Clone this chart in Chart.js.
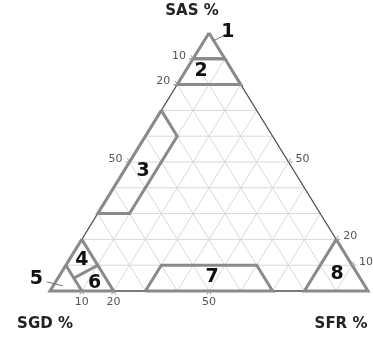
<!DOCTYPE html>
<html>
<head>
<meta charset="utf-8">
<script src="https://cdn.jsdelivr.net/npm/chart.js@4.4.0/dist/chart.umd.min.js"></script>
<style>
  html, body { margin: 0; padding: 0; background: #fff; }
  #wrap { width: 373px; height: 339px; }
</style>
</head>
<body>
<div id="wrap"><canvas id="ternary" width="373" height="339"></canvas></div>
<script>
// ternary points are [SAS, SFR] fractions (SGD = 1 - SAS - SFR)
const gridSteps = [0.1, 0.2, 0.3, 0.4, 0.5, 0.6, 0.7, 0.8, 0.9];

const sasTicks = [10, 20, 50];   // left side, measured down from the SAS corner
const sfrTicks = [50, 20, 10];   // right side, measured up from the SFR corner
const sgdTicks = [10, 20, 50];   // bottom, measured from the SGD corner

const region1 = [[1, 0], [0.9, 0], [0.9, 0.1], [1, 0]];
const region2 = [[0.9, 0], [0.8, 0], [0.8, 0.2], [0.9, 0.1], [0.9, 0]];
const region3 = [[0.7, 0], [0.6, 0.1], [0.3, 0.1], [0.3, 0], [0.7, 0]];
const region456 = [[0.2, 0], [0, 0], [0, 0.2], [0.2, 0]];
const region5Edge = [[0.1, 0], [0, 0.1]];
const region46Split = [[0.05, 0.05], [0.1, 0.1]];
const region7 = [[0, 0.3], [0.1, 0.3], [0.1, 0.6], [0, 0.7], [0, 0.3]];
const region8 = [[0.2, 0.8], [0, 0.8], [0, 1], [0.2, 0.8]];

const regionNames = ['1', '2', '3', '4', '5', '6', '7', '8'];
// where each number sits, in ternary coords [SAS, SFR], plus pixel nudge
const nameSpots = [
  [[0.95, 0.05], 11, -14],
  [[0.85, 0.05], 0, -1],
  [[0.465, 0.06], 0, 0],
  [[0.12, 0.04], 0, 0],
  [[0.03, 0.03], -28, -4],
  [[0.04, 0.12], 0, 2],
  [[0.06, 0.48], 0, 2],
  [[0.065, 0.87], 0, 0]
];

const toXY = ([a, c]) => ({ x: c + a / 2, y: a });

function lineSet(points, color, width, order) {
  return {
    data: points.map(toXY),
    showLine: true,
    borderColor: color,
    borderWidth: width,
    pointRadius: 0,
    pointHoverRadius: 0,
    tension: 0,
    fill: false,
    clip: false,
    order: order
  };
}

const datasets = [];
const REGION = '#8a8a8a';
[region1, region2, region3, region456, region5Edge, region46Split, region7, region8]
  .forEach(r => datasets.push(lineSet(r, REGION, 3, 1)));

datasets.push(lineSet([[1, 0], [0, 0], [0, 1], [1, 0]], '#4d4d4d', 1.3, 2));

gridSteps.forEach(s => {
  datasets.push(lineSet([[s, 0], [s, 1 - s]], '#d8d8d8', 1, 3));
  datasets.push(lineSet([[0, s], [1 - s, s]], '#d8d8d8', 1, 3));
  datasets.push(lineSet([[0, 1 - s], [1 - s, 0]], '#d8d8d8', 1, 3));
});

const textPlugin = {
  id: 'ternaryText',
  afterDatasetsDraw(chart) {
    const { ctx, scales } = chart;
    const px = (p) => {
      const q = toXY(p);
      return { x: scales.x.getPixelForValue(q.x), y: scales.y.getPixelForValue(q.y) };
    };
    ctx.save();

    // ticks
    ctx.strokeStyle = '#999';
    ctx.lineWidth = 1;
    ctx.fillStyle = '#555';
    ctx.font = '11px "DejaVu Sans"';
    const tick = (p, pts) => {
      ctx.beginPath();
      pts.forEach(([dx, dy]) => { ctx.moveTo(p.x, p.y); ctx.lineTo(p.x + dx, p.y + dy); });
      ctx.stroke();
    };

    ctx.textBaseline = 'middle';
    ctx.textAlign = 'right';
    sasTicks.forEach(v => {
      const p = px([1 - v / 100, 0]);
      tick(p, [[-4, 0], [-2, -3.5]]);
      ctx.fillText(String(v), p.x - 7, p.y - 3);
    });
    ctx.textAlign = 'left';
    sfrTicks.forEach(v => {
      const p = px([v / 100, 1 - v / 100]);
      tick(p, [[4, 0], [2, -3.5]]);
      ctx.fillText(String(v), p.x + 7, p.y - 3);
    });
    ctx.textAlign = 'center';
    sgdTicks.forEach(v => {
      const p = px([0, v / 100]);
      tick(p, [[-2, 3.5], [2, 3.5]]);
      ctx.fillText(String(v), p.x, p.y + 11);
    });

    // leader lines for 1 and 5
    ctx.strokeStyle = '#777';
    const l1 = px([0.97, 0.02]);
    ctx.beginPath(); ctx.moveTo(l1.x + 3, l1.y); ctx.lineTo(l1.x + 13, l1.y - 5); ctx.stroke();
    const l5 = px([0.02, 0.03]);
    ctx.beginPath(); ctx.moveTo(l5.x, l5.y); ctx.lineTo(l5.x - 16, l5.y - 4); ctx.stroke();

    // region numbers
    ctx.fillStyle = '#111';
    ctx.font = 'bold 19px "DejaVu Sans"';
    ctx.textAlign = 'center';
    regionNames.forEach((n, i) => {
      const [pt, dx, dy] = nameSpots[i];
      const p = px(pt);
      ctx.fillText(n, p.x + dx, p.y + dy);
    });

    // corner titles
    ctx.fillStyle = '#222';
    ctx.font = 'bold 15px "DejaVu Sans"';
    ctx.fillText('SAS %', 192, 11);
    ctx.fillText('SGD %', 45, 324);
    ctx.fillText('SFR %', 341, 324);
    ctx.restore();
  }
};

new Chart(document.getElementById('ternary'), {
  type: 'scatter',
  data: { datasets: datasets },
  options: {
    responsive: false,
    animation: false,
    layout: { padding: { left: 50, right: 5, top: 33, bottom: 48 } },
    scales: {
      x: { type: 'linear', min: 0, max: 1, display: false },
      y: { type: 'linear', min: 0, max: 1, display: false }
    },
    plugins: { legend: { display: false }, tooltip: { enabled: false } }
  },
  plugins: [textPlugin]
});
</script>
</body>
</html>
